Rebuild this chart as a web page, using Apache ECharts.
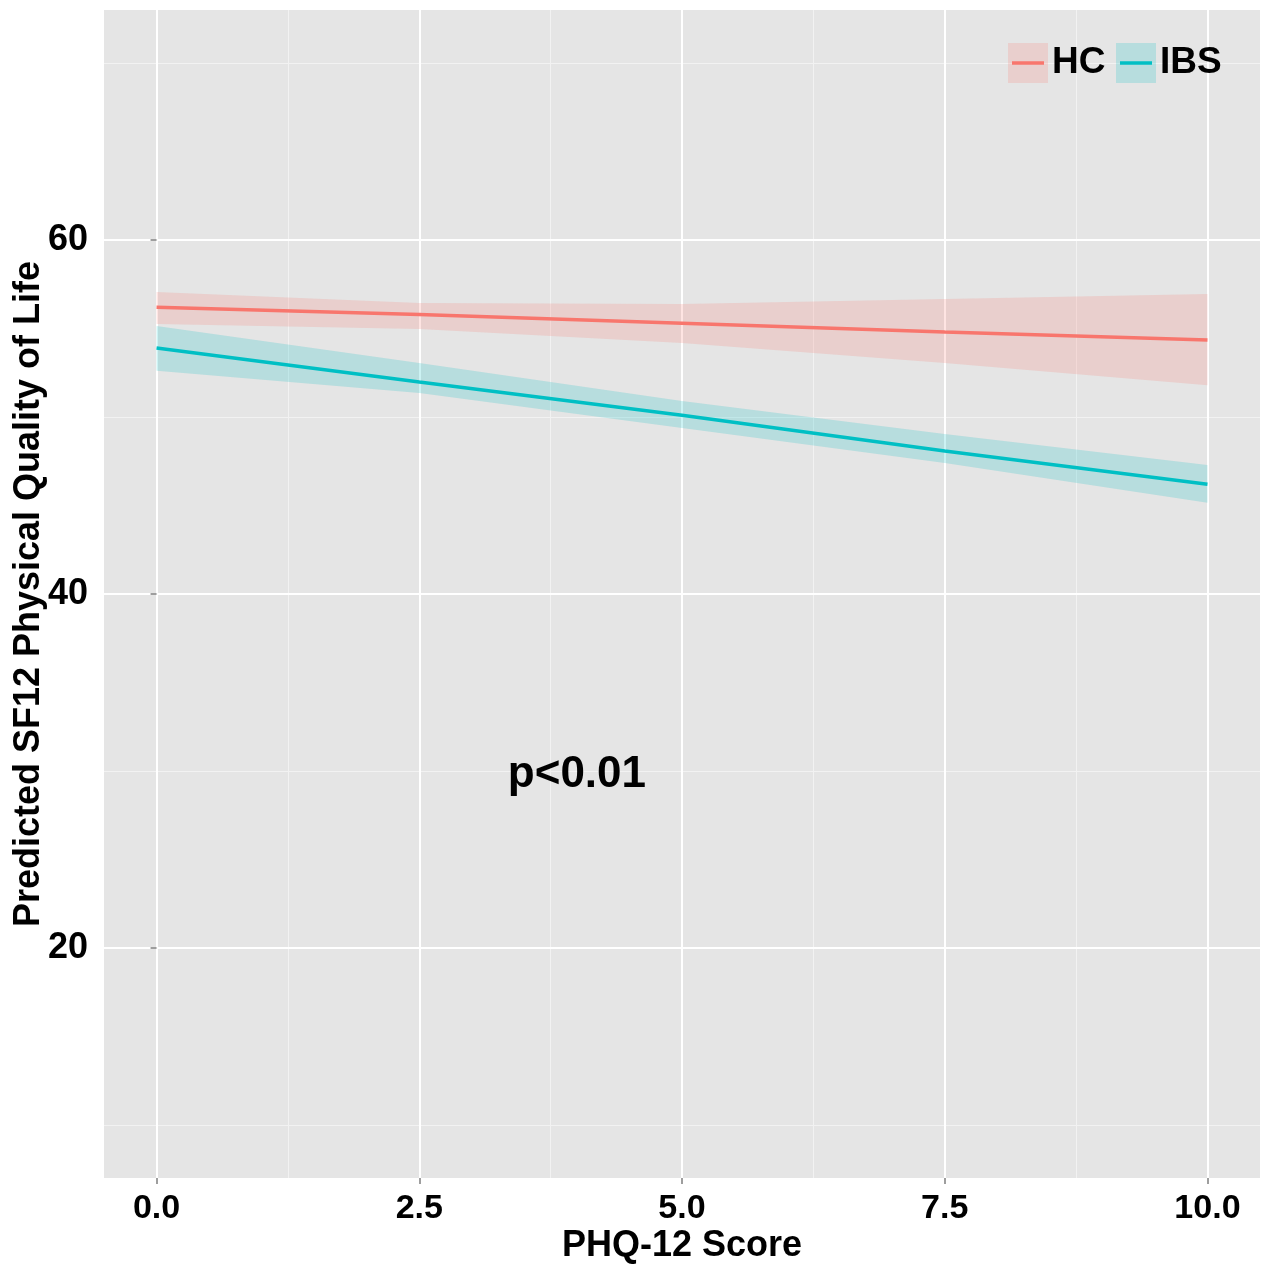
<!DOCTYPE html>
<html>
<head>
<meta charset="utf-8">
<script src="https://cdn.jsdelivr.net/npm/echarts@6/dist/echarts.min.js"></script>
<style>
  html, body { margin: 0; padding: 0; background: #fff; }
  #chart { width: 1269px; height: 1265px; }
</style>
</head>
<body>
<div id="chart"></div>
<script>
// values
var phqScore = [0, 2.5, 5, 7.5, 10];
var hcFit = [56.2, 55.8, 55.3, 54.8, 54.35];
var hcLower = [55.25, 54.97, 54.18, 53.05, 51.8];
var hcUpper = [57.06, 56.44, 56.38, 56.67, 56.95];
var ibsFit = [53.9, 51.98, 50.1, 48.08, 46.2];
var ibsLower = [52.62, 51.36, 49.38, 47.4, 45.16];
var ibsUpper = [55.14, 53.05, 50.9, 49.04, 47.29];
var xTicks = [0, 2.5, 5, 7.5, 10];
var xMinor = [1.25, 3.75, 6.25, 8.75];
var yTicks = [20, 40, 60];
var yMinor = [10, 30, 50, 70];
var annotation = { x: 4, y: 29.8, text: 'p<0.01' };

var FONT = "'Liberation Sans', Arial, sans-serif";
var HC_COLOR = '#F8766D';
var IBS_COLOR = '#00BFC4';

function pairs(ys) {
  return phqScore.map(function (x, i) { return [x, ys[i]]; });
}
function bandData(lo, hi) {
  return phqScore.map(function (x, i) { return [x, lo[i], hi[i]]; });
}

// confidence ribbon: one polygon through upper edge then back along lower edge
function ribbon(color) {
  return function (params, api) {
    if (params.dataIndexInside !== 0) return null;
    var n = params.dataInsideLength;
    var upper = [], lower = [];
    for (var i = 0; i < n; i++) {
      var x = api.value(0, i);
      upper.push(api.coord([x, api.value(2, i)]));
      lower.unshift(api.coord([x, api.value(1, i)]));
    }
    return {
      type: 'polygon',
      shape: { points: upper.concat(lower) },
      style: { fill: color, opacity: 0.2 }
    };
  };
}

var chart = echarts.init(document.getElementById('chart'));

var option = {
  backgroundColor: '#ffffff',
  animation: false,
  grid: { left: 104, right: 9, top: 10, bottom: 87, show: true, backgroundColor: '#E5E5E5', borderWidth: 0,
    outerBoundsMode: 'none', containLabel: false },
  xAxis: [
    {
      type: 'value', min: -0.5, max: 10.5,
      name: 'PHQ-12 Score', nameLocation: 'middle', nameGap: 50, nameMoveOverlap: false,
      nameTextStyle: { fontFamily: FONT, fontWeight: 'bold', fontSize: 36, color: '#000' },
      axisLine: { show: false },
      axisTick: { show: true, length: 6, customValues: xTicks, lineStyle: { color: '#7f7f7f', width: 1.5 } },
      axisLabel: { customValues: xTicks, margin: 14, fontFamily: FONT, fontWeight: 'bold', fontSize: 34, color: '#000',
        formatter: function (v) { return v.toFixed(1); } },
      splitLine: { show: true, lineStyle: { color: '#ffffff', width: 2 } },
      z: 2
    },
    {
      type: 'value', min: -0.5, max: 10.5, position: 'bottom',
      axisLine: { show: false },
      axisTick: { show: false, customValues: xMinor },
      axisLabel: { show: false },
      splitLine: { show: true, lineStyle: { color: '#F2F2F2', width: 1 } },
      z: 1
    }
  ],
  yAxis: [
    {
      type: 'value', min: 7, max: 73,
      name: 'Predicted SF12 Physical Quality of Life', nameLocation: 'middle', nameGap: 57, nameMoveOverlap: false,
      nameTextStyle: { fontFamily: FONT, fontWeight: 'bold', fontSize: 36, color: '#000' },
      axisLine: { show: false },
      axisTick: { show: true, length: 6, customValues: yTicks, lineStyle: { color: '#7f7f7f', width: 1.5 } },
      axisLabel: { customValues: yTicks, margin: 16, fontFamily: FONT, fontWeight: 'bold', fontSize: 36, color: '#000' },
      splitLine: { show: true, lineStyle: { color: '#ffffff', width: 2 } },
      z: 2
    },
    {
      type: 'value', min: 7, max: 73, position: 'left',
      axisLine: { show: false },
      axisTick: { show: false, customValues: yMinor },
      axisLabel: { show: false },
      splitLine: { show: true, lineStyle: { color: '#F2F2F2', width: 1 } },
      z: 1
    }
  ],
  series: [
    { name: 'HC band', type: 'custom', data: bandData(hcLower, hcUpper), renderItem: ribbon(HC_COLOR),
      encode: { x: 0, y: [1, 2] }, silent: true, z: 3 },
    { name: 'IBS band', type: 'custom', data: bandData(ibsLower, ibsUpper), renderItem: ribbon(IBS_COLOR),
      encode: { x: 0, y: [1, 2] }, silent: true, z: 3 },
    { name: 'HC', type: 'line', data: pairs(hcFit), symbol: 'none',
      lineStyle: { color: HC_COLOR, width: 3.5 }, z: 5 },
    { name: 'IBS', type: 'line', data: pairs(ibsFit), symbol: 'none',
      lineStyle: { color: IBS_COLOR, width: 3.5 }, z: 5 },
    { type: 'scatter', data: [[annotation.x, annotation.y]], symbolSize: 0, silent: true, z: 6,
      itemStyle: { opacity: 1 },
      label: { show: true, position: 'inside', formatter: annotation.text, opacity: 1,
        fontFamily: FONT, fontWeight: 'bold', fontSize: 44, color: '#000000', textBorderWidth: 0 } }
  ],
  graphic: [
    { type: 'rect', left: 1008, top: 43, shape: { width: 40, height: 40 }, style: { fill: HC_COLOR, opacity: 0.2 }, z: 10 },
    { type: 'line', shape: { x1: 1012, y1: 63, x2: 1044, y2: 63 }, style: { stroke: HC_COLOR, lineWidth: 3.5 }, z: 11 },
    { type: 'text', left: 1052, top: 44, style: { text: 'HC', fontFamily: FONT, fontWeight: 'bold', fontSize: 37, fill: '#000' }, z: 11 },
    { type: 'rect', left: 1116, top: 43, shape: { width: 40, height: 40 }, style: { fill: IBS_COLOR, opacity: 0.2 }, z: 10 },
    { type: 'line', shape: { x1: 1120, y1: 63, x2: 1152, y2: 63 }, style: { stroke: IBS_COLOR, lineWidth: 3.5 }, z: 11 },
    { type: 'text', left: 1160, top: 44, style: { text: 'IBS', fontFamily: FONT, fontWeight: 'bold', fontSize: 37, fill: '#000' }, z: 11 }
  ]
};

chart.setOption(option);
</script>
</body>
</html>
